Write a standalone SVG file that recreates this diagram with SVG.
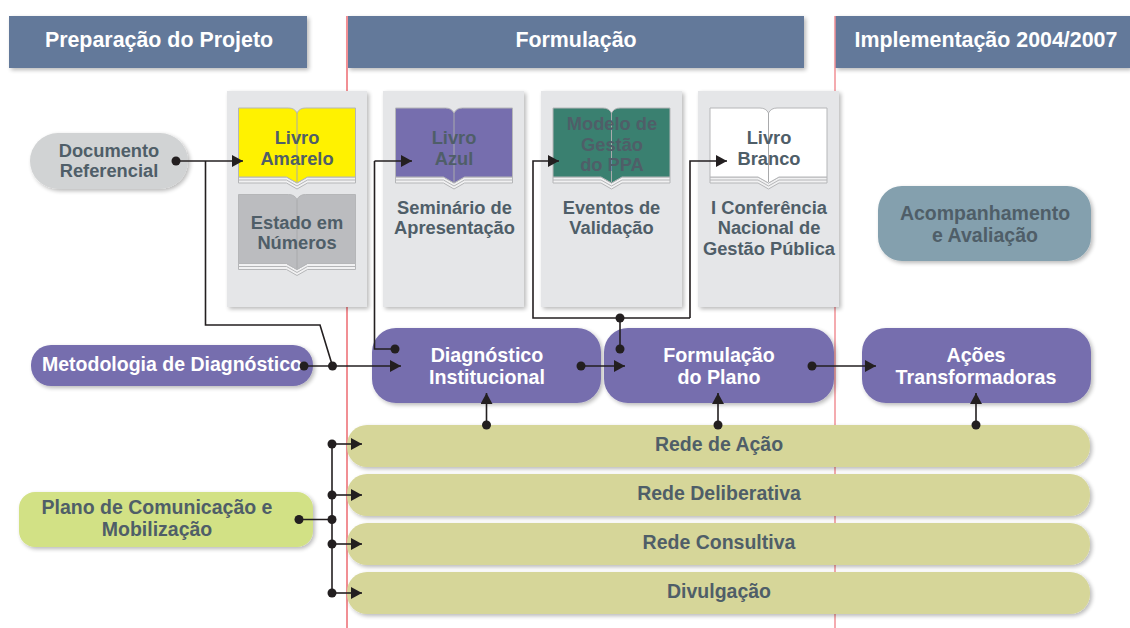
<svg xmlns="http://www.w3.org/2000/svg" width="1130" height="628" viewBox="0 0 1130 628">
<defs>
<filter id="sh" x="-10%" y="-10%" width="125%" height="125%"><feGaussianBlur in="SourceAlpha" stdDeviation="2"/><feOffset dx="1.500" dy="2"/><feComponentTransfer><feFuncA type="linear" slope="0.28"/></feComponentTransfer><feMerge><feMergeNode/><feMergeNode in="SourceGraphic"/></feMerge></filter>
<marker id="ah" markerUnits="userSpaceOnUse" markerWidth="11" markerHeight="12" refX="11" refY="6" orient="auto"><path d="M0,0 L11,6 L0,12 Z" fill="#231f20"/></marker>
<marker id="dot" markerUnits="userSpaceOnUse" markerWidth="10" markerHeight="10" refX="5" refY="5"><circle cx="5" cy="5" r="4.500" fill="#231f20"/></marker>
<g id="book"><path d="M0,69 H48 L58.500,75 L69,69 H117 V75 H69 L58.500,81 L48,75 H0 Z" fill="#f1f1f2" stroke="#b5b6b8" stroke-width="1"/><path d="M0,72 H48 L58.500,78 L69,72 H117" fill="none" stroke="#b5b6b8" stroke-width="1"/><path d="M0,0 H50 Q56,0 58.500,5 Q61,0 67,0 H117 V69 H69 L58.500,75 L48,69 H0 Z" fill="currentColor" stroke="#b5b6b8" stroke-width="1"/><path d="M58.500,5 V74" stroke="#a9aaac" fill="none"/></g>
</defs>
<style>
text{font-family:"Liberation Sans",Arial,sans-serif;font-weight:bold;text-anchor:middle}
.hd{fill:#fff;font-size:21.400px}.d{fill:#4f5e68;font-size:18.300px}.l{fill:#4f5e68;font-size:19.500px}.w{fill:#fff;font-size:19.700px}
.hb{fill:#64799a}.panel{fill:#e5e6e8}.purple{fill:#766eae}.olive{fill:#d6d699}
.c{fill:none;stroke:#231f20;stroke-width:1.600}
.e{marker-end:url(#ah);marker-start:url(#dot)}
</style>
<g id="header-preparacao"><rect class="hb" x="9" y="16" width="298" height="52" filter="url(#sh)"/><text class="hd" x="159" y="47">Preparação do Projeto</text></g>
<g id="header-formulacao"><rect class="hb" x="347.500" y="16" width="456.500" height="52" filter="url(#sh)"/><text class="hd" x="576" y="47">Formulação</text></g>
<g id="header-implementacao"><rect class="hb" x="835" y="16" width="295" height="52" filter="url(#sh)"/><text class="hd" x="986" y="47">Implementação 2004/2007</text></g>
<g id="guides" stroke="#f18f94"><line x1="347" y1="16" x2="347" y2="628" stroke-width="2"/><line x1="835" y1="16" x2="835" y2="628" stroke-width="1.500"/></g>
<g id="panel-1"><rect class="panel" x="227" y="91" width="140" height="216" filter="url(#sh)"/></g>
<g id="panel-2"><rect class="panel" x="383" y="91" width="141" height="216" filter="url(#sh)"/></g>
<g id="panel-3"><rect class="panel" x="541" y="91" width="141" height="216" filter="url(#sh)"/></g>
<g id="panel-4"><rect class="panel" x="698" y="91" width="141" height="216" filter="url(#sh)"/></g>
<g id="documento-referencial"><rect x="30" y="133" width="158" height="56" rx="28" fill="#d1d3d4" filter="url(#sh)"/><text class="d" x="109" y="157">Documento</text><text class="d" x="109" y="177">Referencial</text></g>
<g id="livro-amarelo"><use href="#book" x="238.500" y="108" color="#fff200"/><text class="d" x="297" y="144">Livro</text><text class="d" x="297" y="165">Amarelo</text></g>
<g id="estado-numeros"><use href="#book" x="238.500" y="194.500" color="#bbbcbf"/><text class="d" x="297" y="229">Estado em</text><text class="d" x="297" y="249">Números</text></g>
<g id="livro-azul"><use href="#book" x="395.500" y="108" color="#766eae"/><text class="d" x="454" y="144">Livro</text><text class="d" x="454" y="165">Azul</text></g>
<g id="seminario"><text class="d" x="454.500" y="214">Seminário de</text><text class="d" x="454.500" y="234">Apresentação</text></g>
<g id="modelo-gestao"><use href="#book" x="553" y="108" color="#3a8070"/><text class="d" x="612" y="130">Modelo de</text><text class="d" x="612" y="151">Gestão</text><text class="d" x="612" y="171">do PPA</text></g>
<g id="eventos"><text class="d" x="611.500" y="214">Eventos de</text><text class="d" x="611.500" y="234">Validação</text></g>
<g id="livro-branco"><use href="#book" x="710" y="108" color="#fff"/><text class="d" x="769" y="144">Livro</text><text class="d" x="769" y="165">Branco</text></g>
<g id="conferencia"><text class="d" x="769" y="214">I Conferência</text><text class="d" x="769" y="234">Nacional de</text><text class="d" x="769" y="255">Gestão Pública</text></g>
<g id="acompanhamento"><rect x="878" y="186" width="213" height="75" rx="24" fill="#84a0ae" filter="url(#sh)"/><text class="l" x="985" y="220">Acompanhamento</text><text class="l" x="985" y="242">e Avaliação</text></g>
<g id="metodologia"><rect class="purple" x="31" y="345" width="282" height="41" rx="20" filter="url(#sh)"/><text class="w" x="172" y="371" style="font-size:19.500px">Metodologia de Diagnóstico</text></g>
<g id="diagnostico"><rect class="purple" x="372" y="328" width="229" height="75" rx="24" filter="url(#sh)"/><text class="w" x="487" y="362">Diagnóstico</text><text class="w" x="487" y="384">Institucional</text></g>
<g id="formulacao-plano"><rect class="purple" x="604" y="328" width="230" height="75" rx="24" filter="url(#sh)"/><text class="w" x="719" y="362">Formulação</text><text class="w" x="719" y="384">do Plano</text></g>
<g id="acoes"><rect class="purple" x="862" y="328" width="229" height="75" rx="24" filter="url(#sh)"/><text class="w" x="976" y="362">Ações</text><text class="w" x="976" y="384">Transformadoras</text></g>
<g id="rede-acao"><rect class="olive" x="347" y="425" width="743" height="42" rx="20" filter="url(#sh)"/><text class="l" x="719" y="451">Rede de Ação</text></g>
<g id="rede-deliberativa"><rect class="olive" x="347" y="474" width="743" height="42" rx="20" filter="url(#sh)"/><text class="l" x="719" y="500">Rede Deliberativa</text></g>
<g id="rede-consultiva"><rect class="olive" x="347" y="523" width="743" height="42" rx="20" filter="url(#sh)"/><text class="l" x="719" y="549">Rede Consultiva</text></g>
<g id="divulgacao"><rect class="olive" x="347" y="572" width="743" height="42" rx="20" filter="url(#sh)"/><text class="l" x="719" y="598">Divulgação</text></g>
<g id="plano-comunicacao"><rect x="19" y="492" width="294" height="55" rx="16" fill="#d2e185" filter="url(#sh)"/><text class="l" x="157" y="514">Plano de Comunicação e</text><text class="l" x="157" y="536">Mobilização</text></g>
<g id="connectors">
<path class="c e" d="M176,161 H243"/>
<path class="c" d="M205.500,161 V325 H320 L332.500,366"/>
<path class="c e" d="M304,366 H401"/>
<path class="c" d="M395,349 H374.500 V161"/>
<path class="c" style="marker-end:url(#ah)" d="M374.500,161 H412"/>
<path class="c" d="M620,349 V318"/>
<path class="c" style="marker-end:url(#ah)" d="M690,318 H533 V161 H559"/>
<path class="c" style="marker-end:url(#ah)" d="M690,318 V161 H727"/>
<path class="c e" d="M581,366 H625"/>
<path class="c e" d="M812,366 H876"/>
<path class="c e" d="M486.500,425 V393"/>
<path class="c e" d="M718,425 V393"/>
<path class="c e" d="M976,425 V393"/>
<path class="c" d="M332,444 V593"/>
<path class="c e" d="M332,444 H362"/>
<path class="c e" d="M332,495 H362"/>
<path class="c e" d="M332,544 H362"/>
<path class="c e" d="M332,593 H362"/>
<path class="c" d="M299,519.500 H332"/>
<g fill="#231f20"><circle cx="332.500" cy="366" r="4.500"/><circle cx="395" cy="349" r="4.500"/><circle cx="620" cy="349" r="4.500"/><circle cx="620" cy="318" r="4.500"/><circle cx="299" cy="519.500" r="4.500"/><circle cx="332" cy="519.500" r="4.500"/></g>
</g>
</svg>
